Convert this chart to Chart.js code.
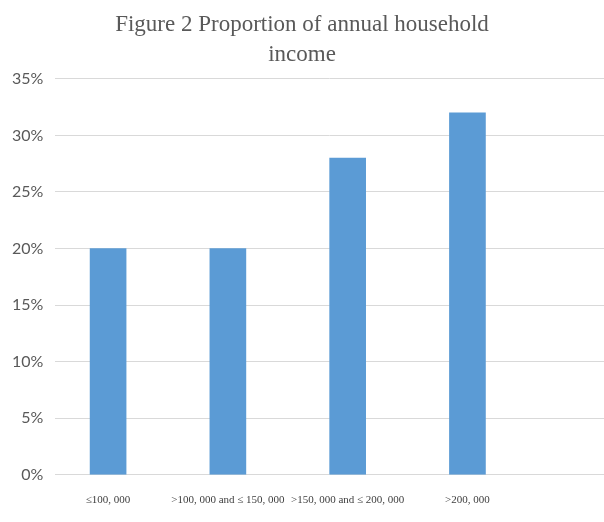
<!DOCTYPE html>
<html>
<head>
<meta charset="utf-8">
<script src="https://cdn.jsdelivr.net/npm/chart.js@4"></script>
<style>
  html, body { margin: 0; padding: 0; background: #fff; }
  #wrap { width: 604px; height: 522px; }
</style>
</head>
<body>
<div id="wrap"><canvas id="chartIncome"></canvas></div>
<script>
// datos del grafico
const categories = ['\u2264100, 000', '>100, 000 and \u2264 150, 000', '>150, 000 and \u2264 200, 000', '>200, 000'];
const shares = [20, 20, 28, 32];
const yTicks = [0, 5, 10, 15, 20, 25, 30, 35];

const points = shares.map((v, i) => ({ x: i, y: v }));

const ctx = document.getElementById('chartIncome');
new Chart(ctx, {
  type: 'bar',
  data: {
    datasets: [{
      data: points,
      backgroundColor: '#5B9BD5',
      barThickness: 36
    }]
  },
  options: {
    responsive: true,
    maintainAspectRatio: false,
    animation: false,
    layout: { padding: { left: 0, right: 0, top: 7, bottom: 4 } },
    scales: {
      x: {
        type: 'linear',
        offset: false,
        min: -0.44,
        max: 4.14,
        grid: { display: false },
        border: { display: false },
        afterBuildTicks: scale => { scale.ticks = categories.map((c, i) => ({ value: i })); },
        ticks: {
          autoSkip: false,
          maxRotation: 0,
          padding: 11,
          color: '#404040',
          font: { family: 'Liberation Serif', size: 11 },
          callback: v => categories[v]
        }
      },
      y: {
        min: 0,
        max: 35,
        afterBuildTicks: scale => { scale.ticks = yTicks.map(v => ({ value: v })); },
        grid: { color: '#d9d9d9', lineWidth: 1, drawTicks: false },
        border: { display: false },
        ticks: {
          padding: 12,
          color: '#595959',
          font: { family: 'Lato', size: 16 },
          callback: v => v + '%'
        }
      }
    },
    plugins: {
      legend: { display: false },
      tooltip: { enabled: false },
      title: {
        display: true,
        text: ['Figure 2 Proportion of annual household', 'income'],
        color: '#595959',
        font: { family: 'Liberation Serif', size: 23, weight: 'normal', lineHeight: 1.3 },
        padding: { top: 3, bottom: 9 }
      }
    }
  }
});
</script>
</body>
</html>
